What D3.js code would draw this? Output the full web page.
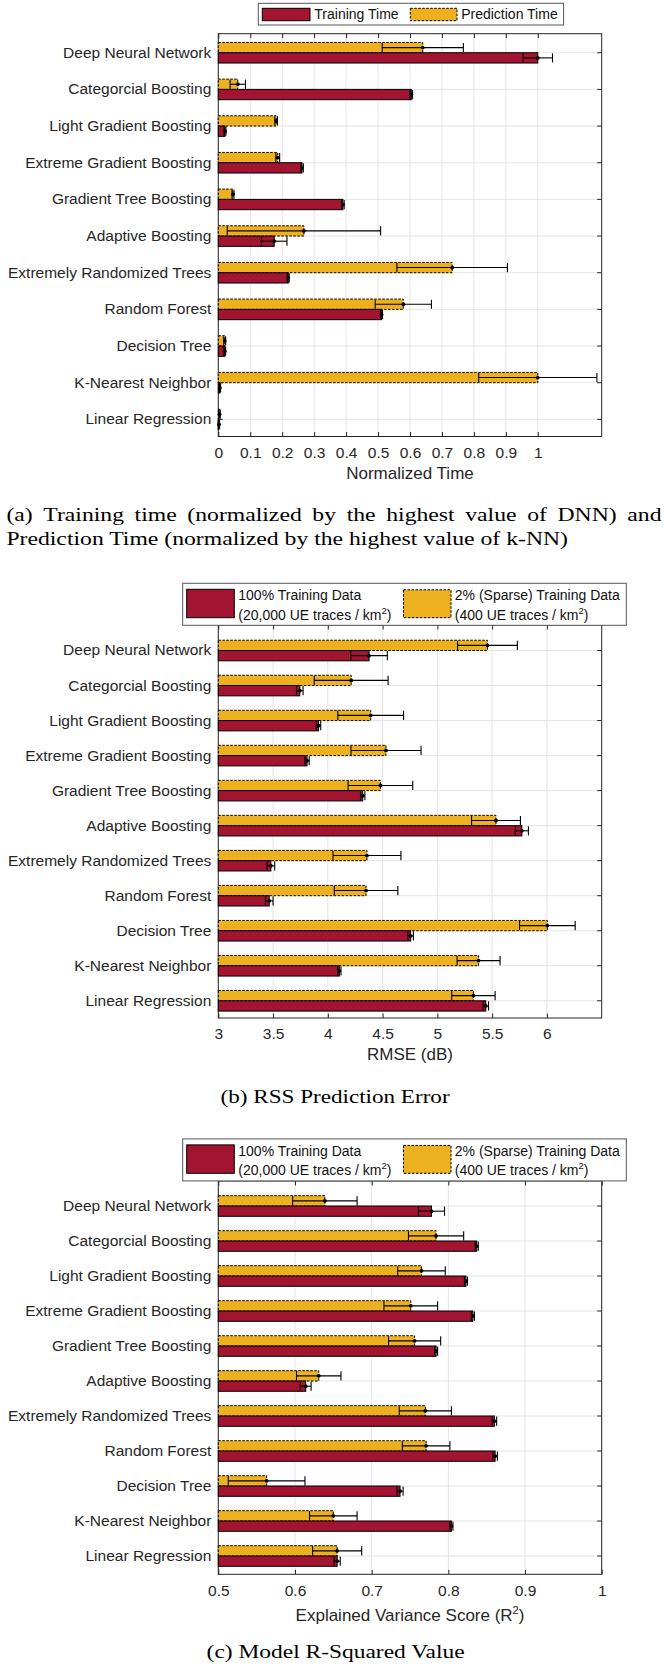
<!DOCTYPE html>
<html><head><meta charset="utf-8">
<script src="https://cdn.jsdelivr.net/npm/d3@7"></script>
<style>body{margin:0;background:#fff}svg{display:block}</style>
</head><body>
<svg id="chart" width="664" height="1666"></svg>
<script>
// ---------------- data ----------------
const categories = ["Deep Neural Network","Categorcial Boosting","Light Gradient Boosting","Extreme Gradient Boosting","Gradient Tree Boosting","Adaptive Boosting","Extremely Randomized Trees","Random Forest","Decision Tree","K-Nearest Neighbor","Linear Regression"];

// (a) normalized time
const trainTime     = [1.000, 0.604, 0.021, 0.262, 0.390, 0.175, 0.219, 0.511, 0.020, 0.005, 0.002];
const trainTimeErr  = [0.046, 0.004, 0.003, 0.004, 0.004, 0.040, 0.003, 0.003, 0.003, 0.002, 0.002];
const predTime      = [0.640, 0.061, 0.181, 0.186, 0.046, 0.268, 0.732, 0.579, 0.020, 1.000, 0.004];
const predTimeErr   = [0.127, 0.024, 0.004, 0.006, 0.003, 0.240, 0.173, 0.088, 0.003, 0.185, 0.002];

// (b) RMSE (dB)
const rmseFull      = [4.376, 3.744, 3.915, 3.810, 4.318, 5.771, 3.480, 3.465, 4.756, 4.105, 5.442];
const rmseFullErr   = [0.167, 0.030, 0.020, 0.020, 0.020, 0.060, 0.035, 0.035, 0.025, 0.015, 0.025];
const rmseSparse    = [5.457, 4.213, 4.391, 4.531, 4.480, 5.535, 4.357, 4.349, 6.004, 5.376, 5.329];
const rmseSparseErr = [0.273, 0.337, 0.300, 0.320, 0.295, 0.223, 0.310, 0.290, 0.254, 0.196, 0.198];

// (c) R^2
const r2Full        = [0.778, 0.837, 0.823, 0.832, 0.784, 0.614, 0.860, 0.861, 0.737, 0.804, 0.655];
const r2FullErr     = [0.017, 0.002, 0.002, 0.002, 0.002, 0.007, 0.003, 0.003, 0.004, 0.002, 0.004];
const r2Sparse      = [0.639, 0.784, 0.765, 0.751, 0.756, 0.631, 0.770, 0.771, 0.563, 0.650, 0.655];
const r2SparseErr   = [0.042, 0.036, 0.031, 0.035, 0.034, 0.029, 0.034, 0.031, 0.050, 0.031, 0.032];

// tick labels
const timeTicks = [0, 0.1, 0.2, 0.3, 0.4, 0.5, 0.6, 0.7, 0.8, 0.9, 1];
const rmseTicks = [3, 3.5, 4, 4.5, 5, 5.5, 6];
const r2Ticks   = [0.5, 0.6, 0.7, 0.8, 0.9, 1];

// ---------------- drawing ----------------
const RED = "#A2142F", YEL = "#EDB120", AX = "#262626", GRID = "#e4e4e4";
const SANS = "'Liberation Sans', Arial, Helvetica, sans-serif";
const SERIF = "'Liberation Serif', 'Times New Roman', serif";
const svg = d3.select("#chart");
const LEFT = 218.3, RIGHT = 601.7;

function panel(o) {
  const x = d3.scaleLinear().domain(o.domain).range([LEFT, RIGHT]);
  const y = d3.scaleBand().domain(categories).range([o.bandTop, o.bandBottom]);
  const yc = d => y(d) + y.bandwidth() / 2;
  const g = svg.append("g");

  // grid
  g.append("g").selectAll("line").data(o.ticks).join("line")
    .attr("x1", d => x(d)).attr("x2", d => x(d))
    .attr("y1", o.top).attr("y2", o.bottom)
    .attr("stroke", GRID).attr("stroke-width", 1);
  g.append("g").selectAll("line").data(categories).join("line")
    .attr("x1", LEFT).attr("x2", RIGHT)
    .attr("y1", yc).attr("y2", yc)
    .attr("stroke", GRID).attr("stroke-width", 1);

  const TS = 4.5;
  // bottom axis
  const gb = g.append("g").attr("transform", `translate(0,${o.bottom})`)
    .call(d3.axisBottom(x).tickValues(o.ticks).tickSizeInner(-TS).tickSizeOuter(0).tickFormat(d => String(d)));
  // top axis
  const gt = g.append("g").attr("transform", `translate(0,${o.top})`)
    .call(d3.axisTop(x).tickValues(o.ticks).tickSizeInner(-TS).tickSizeOuter(0).tickFormat(""));
  // left axis with category labels
  const gl = g.append("g").attr("transform", `translate(${LEFT},0)`)
    .call(d3.axisLeft(y).tickSizeInner(-TS).tickSizeOuter(0).tickPadding(7));
  // right axis
  const gr = g.append("g").attr("transform", `translate(${RIGHT},0)`)
    .call(d3.axisRight(y).tickSizeInner(-TS).tickSizeOuter(0).tickFormat(""));
  [gb, gt, gl, gr].forEach(a => {
    a.select(".domain").remove();
    a.attr("font-family", SANS).attr("font-size", 15.5);
    a.selectAll(".tick line").attr("stroke", AX);
    a.selectAll(".tick text").attr("fill", AX);
  });
  gb.selectAll(".tick text").attr("dy", null).attr("y", 21.3);

  // frame
  g.append("rect").attr("x", LEFT).attr("y", o.top)
    .attr("width", RIGHT - LEFT).attr("height", o.bottom - o.top)
    .attr("fill", "none").attr("stroke", AX).attr("stroke-width", 1);

  // axis title
  const tt = g.append("text").attr("x", (LEFT + RIGHT) / 2).attr("y", o.bottom + o.titleOffset)
    .attr("text-anchor", "middle").attr("font-family", SANS).attr("font-size", 17).attr("fill", AX);
  if (o.titleSup) {
    tt.append("tspan").text(o.title);
    tt.append("tspan").attr("dy", -7).attr("font-size", 11).text(o.titleSup);
    tt.append("tspan").attr("dy", 7).text(o.titleEnd);
  } else tt.text(o.title);

  // bars
  const H = 10.3;
  const x0 = o.domain[0];
  const series = [
    {vals: o.s2, errs: o.e2, color: YEL, dash: "2.5,1.5", off: -H},
    {vals: o.s1, errs: o.e1, color: RED, dash: null, off: 0}
  ];
  series.forEach(s => {
    const data = categories.map((c, i) => ({c, v: s.vals[i], e: s.errs[i]}));
    g.append("g").selectAll("rect").data(data).join("rect")
      .attr("x", x(x0)).attr("y", d => yc(d.c) + s.off)
      .attr("width", d => x(d.v) - x(x0)).attr("height", H)
      .attr("fill", s.color).attr("stroke", "#000").attr("stroke-width", 1)
      .attr("stroke-dasharray", s.dash);
  });
  series.forEach(s => {
    const data = categories.map((c, i) => ({c, v: s.vals[i], e: s.errs[i], ym: yc(c) + s.off + H / 2}));
    const eg = g.append("g").selectAll("g").data(data).join("g");
    eg.append("line").attr("x1", d => x(d.v - d.e)).attr("x2", d => x(d.v + d.e))
      .attr("y1", d => d.ym).attr("y2", d => d.ym).attr("stroke", "#000").attr("stroke-width", 1.1);
    eg.append("line").attr("x1", d => x(d.v - d.e)).attr("x2", d => x(d.v - d.e))
      .attr("y1", d => d.ym - 4.6).attr("y2", d => d.ym + 4.6).attr("stroke", "#000").attr("stroke-width", 1.1);
    eg.append("line").attr("x1", d => x(d.v + d.e)).attr("x2", d => x(d.v + d.e))
      .attr("y1", d => d.ym - 4.6).attr("y2", d => d.ym + 4.6).attr("stroke", "#000").attr("stroke-width", 1.1);
    eg.append("circle").attr("cx", d => x(d.v)).attr("cy", d => d.ym).attr("r", 1.9).attr("fill", "#000");
  });
}

panel({domain: [0, 1.2], ticks: timeTicks, top: 33.7, bottom: 436.5, bandTop: 34.4, bandBottom: 437.7,
  s1: trainTime, e1: trainTimeErr, s2: predTime, e2: predTimeErr, title: "Normalized Time", titleOffset: 42.5});
panel({domain: [3, 6.5], ticks: rmseTicks, top: 625, bottom: 1018, bandTop: 633.0, bandBottom: 1018.3,
  s1: rmseFull, e1: rmseFullErr, s2: rmseSparse, e2: rmseSparseErr, title: "RMSE (dB)", titleOffset: 42});
panel({domain: [0.5, 1], ticks: r2Ticks, top: 1181, bottom: 1574.3, bandTop: 1188.5, bandBottom: 1573.5,
  s1: r2Full, e1: r2FullErr, s2: r2Sparse, e2: r2SparseErr,
  title: "Explained Variance Score (R", titleSup: "2", titleEnd: ")", titleOffset: 46.5});

// ---------------- legends ----------------
function swatch(x, y, w, h, color, dash) {
  svg.append("rect").attr("x", x).attr("y", y).attr("width", w).attr("height", h)
    .attr("fill", color).attr("stroke", "#000").attr("stroke-width", 1).attr("stroke-dasharray", dash);
}
function ltext(x, y, str, sup, end) {
  const t = svg.append("text").attr("x", x).attr("y", y).attr("font-family", SANS).attr("font-size", 14).attr("fill", "#111");
  t.append("tspan").text(str);
  if (sup) {
    t.append("tspan").attr("dy", -6).attr("font-size", 9.5).text(sup);
    t.append("tspan").attr("dy", 6).text(end);
  }
}
// legend (a)
svg.append("rect").attr("x", 258.3).attr("y", 3.3).attr("width", 305.3).attr("height", 21.7)
  .attr("fill", "#fff").attr("stroke", "#555").attr("stroke-width", 1);
swatch(262.3, 8.3, 47.7, 12.4, RED, null);
ltext(314.3, 19, "Training Time");
swatch(410.3, 8.3, 46.7, 12.4, YEL, "2.5,1.5");
ltext(461.2, 19, "Prediction Time");

// legends (b), (c)
[583.3, 1138.9].forEach(t0 => {
  svg.append("rect").attr("x", 182.7).attr("y", t0).attr("width", 443.6).attr("height", 42)
    .attr("fill", "#fff").attr("stroke", "#555").attr("stroke-width", 1);
  swatch(186.7, t0 + 6, 47.6, 28.4, RED, null);
  ltext(238.3, t0 + 16.7, "100% Training Data");
  ltext(238.3, t0 + 36.2, "(20,000 UE traces / km", "2", ")");
  swatch(403.5, t0 + 6.5, 47.5, 27.9, YEL, "2.5,1.5");
  ltext(454.8, t0 + 16.7, "2% (Sparse) Training Data");
  ltext(454.8, t0 + 36.2, "(400 UE traces / km", "2", ")");
});

// ---------------- captions ----------------
const CS = 19;
function measure(str) {
  const t = svg.append("text").attr("font-family", SERIF).attr("font-size", CS).text(str);
  const w = t.node().getComputedTextLength();
  t.remove();
  return w;
}
function stretched(str, x, y, width) {
  svg.append("text").attr("x", x).attr("y", y).attr("font-family", SERIF).attr("font-size", CS)
    .attr("fill", "#000").attr("textLength", width).attr("lengthAdjust", "spacingAndGlyphs").text(str);
}
const capA2 = "Prediction Time (normalized by the highest value of k-NN)";
const k = 561.6 / measure(capA2);
(function justify(str, x0, x1, y) {
  const words = str.split(" ");
  const ws = words.map(w => measure(w) * k);
  const gap = (x1 - x0 - d3.sum(ws)) / (words.length - 1);
  let cx = x0;
  words.forEach((w, i) => { stretched(w, cx, y, ws[i]); cx += ws[i] + gap; });
})("(a) Training time (normalized by the highest value of DNN) and", 6.4, 661.5, 521);
stretched(capA2, 6.4, 544.5, 561.6);
stretched("(b) RSS Prediction Error", 220.6, 1103, 229);
stretched("(c) Model R-Squared Value", 206.6, 1658.3, 258);
</script>
</body></html>
